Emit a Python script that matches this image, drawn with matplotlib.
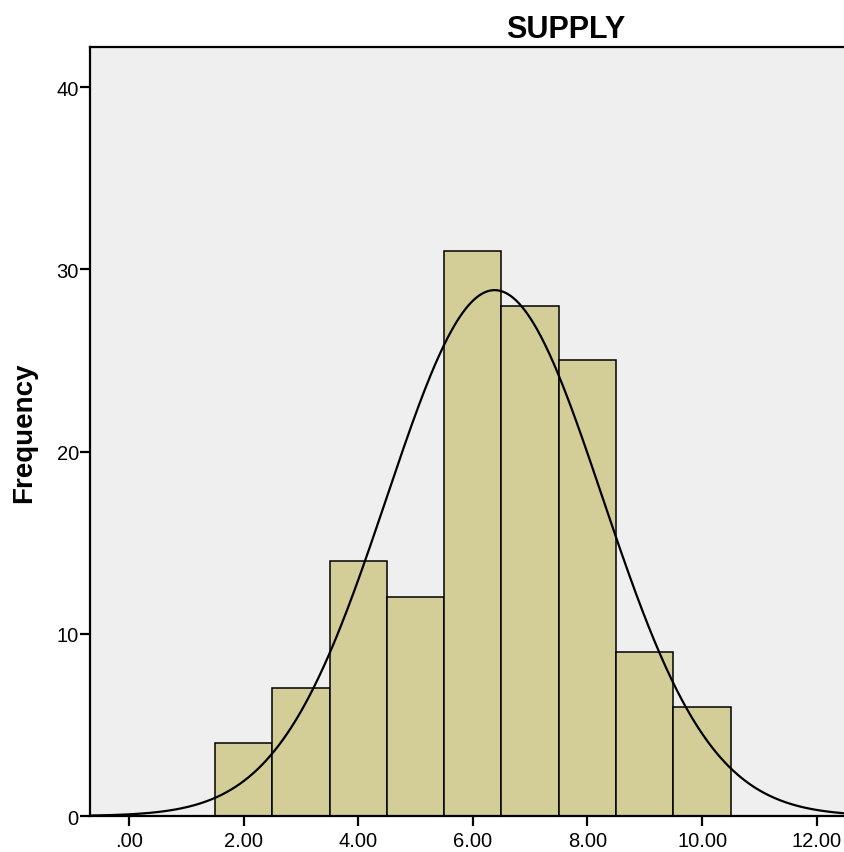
import numpy as np
import matplotlib.pyplot as plt

plt.rcParams['font.family'] = ['Liberation Sans', 'DejaVu Sans']

# histogram bins (width 1) and counts
bin_left = [1.5, 2.5, 3.5, 4.5, 5.5, 6.5, 7.5, 8.5, 9.5]
counts = [4, 7, 14, 12, 31, 28, 25, 9, 6]
bin_width = 1.0

# normal curve parameters (SPSS style overlay)
mean = 6.38
std_dev = 1.88
n_total = sum(counts)

x_ticks = [0, 2, 4, 6, 8, 10, 12]
x_tick_labels = ['.00', '2.00', '4.00', '6.00', '8.00', '10.00', '12.00']
y_ticks = [0, 10, 20, 30, 40]

fig = plt.figure(figsize=(8.44, 8.53), dpi=100)
ax = fig.add_axes([0.1066, 0.0422, 0.929, 0.9015])
ax.set_facecolor('#EFEFEF')

ax.bar(bin_left, counts, width=bin_width, align='edge',
       color='#D3CE98', edgecolor='black', linewidth=1.1, zorder=2)

xs = np.linspace(-1, 14, 600)
ys = n_total * bin_width / (std_dev * np.sqrt(2 * np.pi)) * np.exp(-0.5 * ((xs - mean) / std_dev) ** 2)
ax.plot(xs, ys, color='black', linewidth=1.6, zorder=3)

ax.set_xlim(-0.68, 13.0)
ax.set_ylim(0, 42.2)
ax.set_xticks(x_ticks)
ax.set_xticklabels(x_tick_labels)
ax.set_yticks(y_ticks)

for s in ax.spines.values():
    s.set_linewidth(1.6)
    s.set_color('black')

ax.tick_params(axis='both', direction='out', length=7, width=1.6, labelsize=14.5, colors='black')
ax.tick_params(axis='y', pad=1)

ax.set_ylabel('Frequency', fontsize=20, fontweight='bold', labelpad=14)
fig.text(566 / 844, 1 - 30 / 853, 'SUPPLY', fontsize=22, fontweight='bold',
         ha='center', va='center')

fig.savefig('out.png', dpi=100)
